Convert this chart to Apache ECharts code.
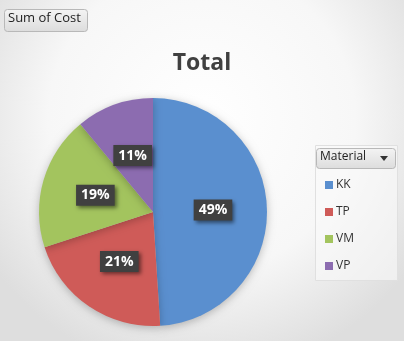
<!DOCTYPE html>
<html><head><meta charset="utf-8">
<script src="https://cdn.jsdelivr.net/npm/echarts@6/dist/echarts.min.js"></script>
<style>html,body{margin:0;padding:0;}#c{width:404px;height:341px;}</style>
</head><body><div id="c"></div>
<script>
var categories = ['KK', 'TP', 'VM', 'VP'];
var values = [49, 21, 19, 11];
var colors = ['#5a8fcf', '#cf5b58', '#a3c45e', '#8c6cb0'];

var chart = echarts.init(document.getElementById('c'));
chart.setOption({
  animation: false,
  backgroundColor: {
    type: 'radial', x: 0.5, y: 0.35, r: 0.75,
    colorStops: [{offset: 0, color: '#ffffff'}, {offset: 0.6, color: '#f7f7f7'}, {offset: 1, color: '#dedede'}]
  },
  title: {
    text: 'Total', left: 197, top: 47, textAlign: 'center',
    textStyle: {fontFamily: 'Open Sans', fontWeight: 'bold', fontSize: 23, color: '#404040'}
  },
  graphic: [
    {type: 'rect', left: 4, top: 9, shape: {width: 83, height: 22, r: 3},
     style: {fill: {type: 'linear', x: 0, y: 0, x2: 0, y2: 1, colorStops: [{offset: 0, color: '#f4f4f4'}, {offset: 1, color: '#dcdcdc'}]}, stroke: '#b8b8b8', lineWidth: 1}},
    {type: 'text', left: 8, top: 12, style: {text: 'Sum of Cost', fill: '#222', font: '13px "Open Sans"'}},
    {type: 'rect', left: 315, top: 145, shape: {width: 82, height: 135},
     style: {fill: 'rgba(250,250,250,0.6)', stroke: '#e0e0e0', lineWidth: 1}},
    {type: 'rect', left: 316, top: 148, shape: {width: 79, height: 20, r: 3},
     style: {fill: {type: 'linear', x: 0, y: 0, x2: 0, y2: 1, colorStops: [{offset: 0, color: '#f4f4f4'}, {offset: 1, color: '#dcdcdc'}]}, stroke: '#b8b8b8', lineWidth: 1}},
    {type: 'text', left: 320, top: 151, style: {text: 'Material', fill: '#222', font: '12px "Open Sans"'}},
    {type: 'polygon', shape: {points: [[380, 156], [388, 156], [384, 161]]}, style: {fill: '#333'}}
  ],
  legend: {
    orient: 'vertical', left: 320, top: 174, itemGap: 15,
    itemWidth: 8, itemHeight: 8, icon: 'rect',
    textStyle: {fontFamily: 'Open Sans', fontSize: 12, color: '#333', padding: [0, 0, 0, -2]},
    data: categories
  },
  series: [{
    type: 'pie', center: [153, 212], radius: 114,
    startAngle: 90, clockwise: true,
    itemStyle: {shadowBlur: 8, shadowColor: 'rgba(0,0,0,0.25)', shadowOffsetY: 2, borderWidth: 0},
    label: {
      show: true, position: 'inside', formatter: '{d}%',
      color: '#fff', fontFamily: 'Open Sans', fontWeight: 'bold', fontSize: 14,
      backgroundColor: '#404040', padding: [4, 5, 3, 5],
      shadowBlur: 4, shadowColor: 'rgba(0,0,0,0.5)', shadowOffsetX: 2, shadowOffsetY: 2
    },
    labelLine: {show: false},
    emphasis: {disabled: true},
    data: categories.map(function (c, i) { return {name: c, value: values[i], itemStyle: {color: colors[i]}}; })
  }]
});
</script></body></html>
